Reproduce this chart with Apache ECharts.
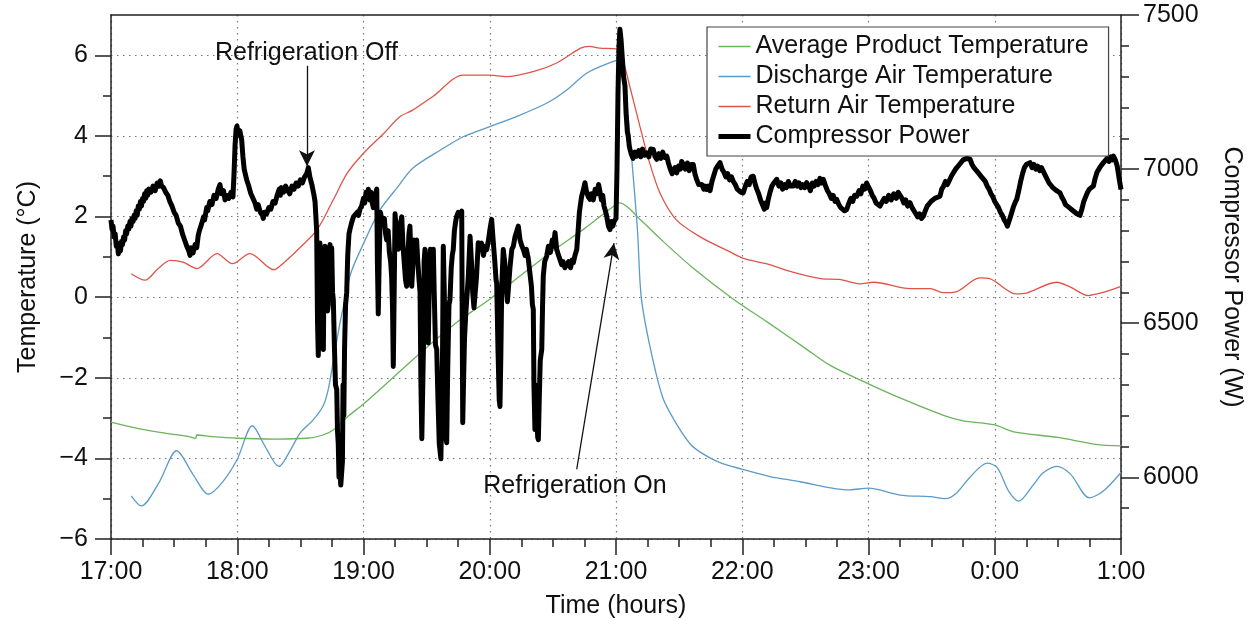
<!DOCTYPE html>
<html>
<head>
<meta charset="utf-8">
<script src="https://cdn.jsdelivr.net/npm/echarts@6/dist/echarts.min.js"></script>
<style>
  html, body { margin: 0; padding: 0; background: #fff; }
  #chart { width: 1250px; height: 626px; }
</style>
</head>
<body>
<div id="chart"></div>
<script>
// time is in hours since midnight of the first day (25 = 1:00 next day)
const hourTicks = [17, 18, 19, 20, 21, 22, 23, 24, 25]
const hourLabels = ['17:00', '18:00', '19:00', '20:00', '21:00', '22:00', '23:00', '0:00', '1:00']
const tempTicks = [-6, -4, -2, 0, 2, 4, 6]
const tempMinorTicks = [-5, -3, -1, 1, 3, 5]
const powerTicks = [6000, 6500, 7000, 7500]
const powerMinorTicks = [5900, 6100, 6200, 6300, 6400, 6600, 6700, 6800, 6900, 7100, 7200, 7300, 7400]

const productTemp = [
  [17.0, -3.1], [17.2, -3.25], [17.4, -3.36], [17.6, -3.45], [17.67, -3.5], [17.68, -3.42],
  [17.8, -3.46], [18.0, -3.5], [18.3, -3.52], [18.55, -3.5], [18.68, -3.42], [18.78, -3.25],
  [18.88, -2.95], [19.0, -2.65], [19.25, -1.95], [19.5, -1.25], [19.75, -0.6], [20.0, -0.05],
  [20.25, 0.55], [20.5, 1.15], [20.75, 1.7], [21.0, 2.3], [21.03, 2.34], [21.2, 1.9],
  [21.35, 1.45], [21.6, 0.75], [21.93, -0.05], [22.2, -0.62], [22.5, -1.27], [22.7, -1.7],
  [23.0, -2.15], [23.25, -2.5], [23.6, -2.94], [23.75, -3.07], [24.0, -3.17], [24.15, -3.34],
  [24.5, -3.48], [24.8, -3.65], [25.0, -3.69]
]

const dischargeTemp = [
  [17.16, -4.93], [17.24, -5.18], [17.38, -4.6], [17.52, -3.81], [17.65, -4.4], [17.77, -4.89],
  [17.88, -4.6], [18.0, -4.02], [18.12, -3.19], [18.22, -3.7], [18.33, -4.2], [18.42, -3.8],
  [18.5, -3.36], [18.6, -3.05], [18.68, -2.7], [18.72, -2.3], [18.76, -1.6], [18.81, -0.7],
  [18.85, -0.1], [18.9, 0.6], [19.0, 1.33], [19.13, 2.16], [19.27, 2.73], [19.39, 3.2],
  [19.61, 3.65], [19.79, 3.98], [20.0, 4.23], [20.18, 4.44], [20.45, 4.81], [20.61, 5.14],
  [20.77, 5.56], [20.98, 5.85], [21.03, 5.89], [21.08, 5.0], [21.12, 3.6], [21.17, 1.66],
  [21.2, 0.0], [21.27, -1.24], [21.37, -2.49], [21.48, -3.15], [21.59, -3.65], [21.67, -3.85],
  [21.82, -4.1], [22.0, -4.27], [22.22, -4.45], [22.46, -4.58], [22.7, -4.73], [22.85, -4.78],
  [23.0, -4.74], [23.25, -4.91], [23.49, -4.95], [23.61, -5.0], [23.7, -4.85], [23.8, -4.48],
  [23.94, -4.12], [24.02, -4.23], [24.11, -4.81], [24.19, -5.06], [24.31, -4.64], [24.38, -4.37],
  [24.49, -4.2], [24.6, -4.39], [24.75, -4.98], [24.86, -4.81], [25.0, -4.35]
]

const returnTemp = [
  [17.16, 0.58], [17.27, 0.42], [17.37, 0.7], [17.47, 0.91], [17.57, 0.87], [17.68, 0.71],
  [17.84, 1.08], [17.96, 0.83], [18.1, 1.08], [18.29, 0.68], [18.36, 0.83], [18.5, 1.24],
  [18.63, 1.66], [18.76, 2.41], [18.87, 3.07], [19.0, 3.57], [19.16, 4.06], [19.29, 4.48],
  [19.39, 4.64], [19.55, 4.98], [19.79, 5.51], [20.0, 5.51], [20.13, 5.47], [20.35, 5.6],
  [20.53, 5.81], [20.72, 6.18], [20.79, 6.22], [20.87, 6.18], [21.0, 6.16], [21.06, 5.81],
  [21.11, 5.22], [21.19, 4.23], [21.26, 3.4], [21.35, 2.57], [21.48, 1.91], [21.67, 1.49],
  [21.88, 1.16], [22.01, 0.96], [22.19, 0.83], [22.4, 0.62], [22.62, 0.46], [22.77, 0.44],
  [22.93, 0.33], [23.04, 0.37], [23.33, 0.21], [23.49, 0.21], [23.59, 0.11], [23.7, 0.14],
  [23.88, 0.48], [23.96, 0.46], [24.17, 0.08], [24.25, 0.1], [24.49, 0.37], [24.6, 0.25],
  [24.74, 0.04], [24.86, 0.12], [25.0, 0.27]
]

const compressorPower = [
  [17.000,6835],[17.008,6805],[17.016,6815],[17.025,6780],[17.033,6790],[17.042,6750],[17.050,6760],[17.058,6725],
  [17.066,6745],[17.075,6735],[17.083,6765],[17.091,6755],[17.100,6780],[17.108,6770],[17.116,6800],[17.124,6790],
  [17.133,6815],[17.141,6805],[17.150,6830],[17.158,6815],[17.166,6840],[17.175,6830],[17.183,6850],[17.191,6840],
  [17.200,6865],[17.208,6850],[17.216,6880],[17.225,6870],[17.233,6895],[17.241,6880],[17.250,6905],[17.258,6895],
  [17.266,6920],[17.275,6905],[17.283,6930],[17.291,6915],[17.300,6935],[17.316,6925],[17.333,6945],[17.350,6930],
  [17.366,6955],[17.383,6945],[17.391,6962],[17.400,6945],[17.416,6940],[17.433,6925],[17.450,6915],[17.466,6895],
  [17.483,6880],[17.500,6860],[17.516,6850],[17.533,6825],[17.550,6815],[17.566,6790],[17.583,6770],[17.600,6750],
  [17.616,6735],[17.626,6720],[17.633,6745],[17.650,6728],[17.666,6755],[17.679,6745],[17.691,6785],[17.700,6800],
  [17.716,6820],[17.733,6845],[17.741,6835],[17.758,6875],[17.766,6865],[17.783,6895],[17.800,6885],[17.816,6915],
  [17.833,6905],[17.850,6935],[17.863,6950],[17.875,6920],[17.891,6930],[17.903,6900],[17.916,6915],[17.933,6905],
  [17.950,6925],[17.966,6910],[17.975,6990],[17.983,7080],[17.991,7130],[17.998,7140],[18.008,7110],[18.020,7125],
  [18.035,7095],[18.045,7040],[18.055,7000],[18.066,6980],[18.075,6965],[18.091,6945],[18.108,6920],[18.125,6905],
  [18.141,6890],[18.154,6870],[18.166,6885],[18.183,6860],[18.200,6850],[18.206,6840],[18.216,6860],[18.233,6855],
  [18.250,6875],[18.266,6870],[18.283,6895],[18.300,6890],[18.316,6915],[18.333,6935],[18.341,6915],[18.350,6940],
  [18.366,6925],[18.383,6945],[18.400,6930],[18.416,6920],[18.433,6945],[18.450,6935],[18.466,6955],[18.483,6945],
  [18.500,6965],[18.516,6955],[18.533,6975],[18.550,6985],[18.563,7005],[18.575,6975],[18.591,6950],[18.608,6915],
  [18.616,6895],[18.629,6800],[18.636,6500],[18.642,6395],[18.648,6600],[18.655,6760],[18.662,6700],[18.668,6420],
  [18.675,6440],[18.682,6415],[18.688,6700],[18.695,6750],[18.702,6720],[18.708,6560],[18.715,6540],[18.721,6560],
  [18.728,6740],[18.735,6755],[18.741,6700],[18.748,6745],[18.755,6600],[18.761,6575],[18.770,6420],[18.778,6300],
  [18.788,6285],[18.794,6150],[18.800,6110],[18.806,6000],[18.812,6030],[18.820,5975],[18.827,5970],[18.833,6050],
  [18.838,6300],[18.844,6200],[18.850,6420],[18.858,6560],[18.867,6600],[18.875,6720],[18.885,6790],[18.893,6805],
  [18.905,6825],[18.920,6845],[18.935,6840],[18.950,6860],[18.960,6850],[18.972,6870],[18.985,6880],[19.000,6905],
  [19.010,6890],[19.020,6925],[19.030,6910],[19.038,6935],[19.050,6900],[19.060,6925],[19.070,6890],[19.078,6875],
  [19.090,6910],[19.105,6935],[19.110,6700],[19.117,6530],[19.124,6700],[19.133,6860],[19.144,6855],[19.155,6820],
  [19.165,6840],[19.175,6790],[19.184,6770],[19.195,6800],[19.205,6730],[19.215,6700],[19.223,6650],[19.230,6550],
  [19.236,6360],[19.243,6600],[19.250,6855],[19.260,6800],[19.268,6760],[19.276,6740],[19.285,6790],[19.295,6830],
  [19.303,6845],[19.312,6760],[19.322,6700],[19.333,6640],[19.342,6620],[19.350,6700],[19.360,6790],[19.368,6815],
  [19.375,6700],[19.382,6620],[19.390,6680],[19.400,6770],[19.410,6760],[19.421,6770],[19.430,6700],[19.440,6640],
  [19.448,6600],[19.455,6300],[19.462,6125],[19.469,6122],[19.476,6450],[19.480,6700],[19.487,6740],[19.495,6700],
  [19.505,6560],[19.513,6436],[19.520,6600],[19.530,6740],[19.540,6720],[19.553,6740],[19.560,6600],[19.570,6430],
  [19.580,6415],[19.590,6250],[19.600,6110],[19.606,6112],[19.613,6060],[19.620,6057],[19.626,6400],[19.632,6750],
  [19.640,6600],[19.648,6300],[19.655,6120],[19.659,6112],[19.667,6350],[19.677,6560],[19.685,6577],[19.695,6680],
  [19.703,6720],[19.711,6739],[19.720,6800],[19.730,6830],[19.738,6847],[19.750,6860],[19.765,6850],[19.778,6864],
  [19.782,6500],[19.786,6177],[19.792,6300],[19.800,6450],[19.810,6530],[19.818,6534],[19.830,6650],[19.844,6782],
  [19.855,6700],[19.865,6600],[19.875,6550],[19.883,6545],[19.895,6650],[19.909,6761],[19.920,6740],[19.935,6760],
  [19.950,6720],[19.965,6750],[19.976,6739],[19.990,6770],[20.000,6800],[20.015,6837],[20.025,6780],[20.040,6700],
  [20.050,6640],[20.055,6631],[20.065,6420],[20.075,6250],[20.081,6230],[20.088,6400],[20.095,6620],[20.107,6739],
  [20.118,6700],[20.130,6620],[20.140,6570],[20.147,6566],[20.160,6680],[20.175,6740],[20.187,6750],[20.200,6780],
  [20.215,6800],[20.226,6815],[20.240,6770],[20.255,6750],[20.266,6739],[20.280,6720],[20.290,6740],[20.305,6710],
  [20.319,6707],[20.330,6620],[20.338,6560],[20.345,6545],[20.350,6300],[20.358,6155],[20.365,6300],[20.372,6200],
  [20.380,6130],[20.385,6122],[20.392,6250],[20.400,6380],[20.412,6415],[20.418,6550],[20.424,6653],[20.435,6700],
  [20.451,6718],[20.465,6750],[20.480,6730],[20.495,6770],[20.505,6750],[20.517,6794],[20.530,6740],[20.545,6720],
  [20.556,6707],[20.570,6690],[20.580,6700],[20.595,6680],[20.610,6674],[20.625,6700],[20.640,6680],[20.652,6705],
  [20.662,6696],[20.675,6720],[20.689,6739],[20.700,6800],[20.710,6860],[20.720,6890],[20.728,6912],[20.740,6930],
  [20.754,6956],[20.765,6930],[20.780,6910],[20.794,6902],[20.805,6920],[20.820,6900],[20.835,6935],[20.850,6920],
  [20.862,6950],[20.873,6945],[20.885,6900],[20.895,6915],[20.905,6880],[20.913,6869],[20.925,6850],[20.940,6815],
  [20.952,6804],[20.962,6830],[20.975,6815],[20.985,6830],[20.992,6826],[21.000,6840],[21.008,7000],[21.016,7250],
  [21.024,7400],[21.031,7454],[21.040,7420],[21.050,7360],[21.060,7300],[21.071,7270],[21.080,7180],[21.090,7120],
  [21.097,7107],[21.105,7075],[21.111,7064],[21.120,7050],[21.135,7035],[21.150,7055],[21.164,7042],[21.180,7060],
  [21.195,7040],[21.210,7065],[21.225,7045],[21.243,7053],[21.260,7040],[21.275,7065],[21.295,7064],[21.310,7040],
  [21.322,7032],[21.340,7050],[21.355,7035],[21.370,7055],[21.385,7038],[21.402,7042],[21.415,7020],[21.430,7000],
  [21.445,6985],[21.454,6988],[21.467,7005],[21.481,6988],[21.495,7010],[21.510,7000],[21.520,7025],[21.533,7021],
  [21.550,7000],[21.565,7020],[21.580,6995],[21.595,7015],[21.612,7015],[21.625,6985],[21.640,6965],[21.655,6950],
  [21.665,6945],[21.680,6950],[21.695,6935],[21.705,6945],[21.718,6934],[21.730,6945],[21.745,6930],[21.760,6960],
  [21.775,6980],[21.790,7000],[21.805,7010],[21.824,7021],[21.840,7000],[21.855,6990],[21.870,6975],[21.885,6985],
  [21.900,6965],[21.915,6975],[21.929,6960],[21.945,6950],[21.960,6935],[21.975,6940],[21.990,6925],[22.008,6923],
  [22.025,6945],[22.040,6960],[22.055,6950],[22.070,6975],[22.087,6977],[22.100,6955],[22.115,6935],[22.130,6920],
  [22.145,6900],[22.160,6895],[22.175,6870],[22.185,6890],[22.194,6875],[22.205,6900],[22.220,6925],[22.235,6945],
  [22.250,6955],[22.273,6967],[22.290,6945],[22.305,6955],[22.320,6935],[22.335,6950],[22.350,6940],[22.365,6960],
  [22.380,6945],[22.404,6945],[22.420,6960],[22.435,6945],[22.450,6955],[22.465,6940],[22.480,6950],[22.495,6940],
  [22.510,6956],[22.525,6945],[22.540,6930],[22.555,6955],[22.570,6945],[22.585,6960],[22.600,6950],[22.615,6970],
  [22.630,6955],[22.642,6967],[22.660,6945],[22.675,6930],[22.690,6920],[22.705,6905],[22.720,6915],[22.735,6895],
  [22.748,6902],[22.765,6885],[22.780,6875],[22.795,6880],[22.810,6865],[22.827,6869],[22.845,6890],[22.860,6905],
  [22.875,6895],[22.890,6915],[22.907,6912],[22.925,6930],[22.940,6920],[22.955,6945],[22.970,6935],[22.985,6955],
  [22.998,6950],[23.015,6930],[23.030,6915],[23.045,6905],[23.060,6890],[23.075,6885],[23.091,6880],[23.110,6895],
  [23.125,6905],[23.140,6895],[23.160,6915],[23.180,6900],[23.200,6920],[23.220,6905],[23.235,6925],[23.250,6923],
  [23.265,6905],[23.280,6890],[23.295,6900],[23.310,6880],[23.329,6891],[23.345,6875],[23.360,6865],[23.375,6860],
  [23.390,6845],[23.405,6855],[23.420,6840],[23.434,6847],[23.450,6865],[23.465,6880],[23.480,6875],[23.495,6895],
  [23.510,6890],[23.525,6905],[23.540,6900],[23.566,6912],[23.580,6935],[23.595,6945],[23.610,6960],[23.625,6950],
  [23.645,6967],[23.660,6980],[23.675,6990],[23.690,7000],[23.705,7005],[23.720,7015],[23.735,7020],[23.750,7030],
  [23.765,7025],[23.780,7035],[23.795,7030],[23.804,7032],[23.820,7015],[23.835,7005],[23.850,7000],[23.865,6990],
  [23.880,6985],[23.895,6975],[23.909,6977],[23.925,6960],[23.940,6945],[23.955,6935],[23.970,6920],[23.985,6910],
  [24.000,6895],[24.015,6891],[24.030,6875],[24.045,6860],[24.060,6850],[24.075,6835],[24.090,6825],[24.100,6815],
  [24.107,6810],[24.120,6840],[24.135,6860],[24.150,6880],[24.165,6895],[24.174,6902],[24.190,6930],[24.205,6960],
  [24.220,6985],[24.235,7005],[24.250,7015],[24.265,7010],[24.279,7021],[24.295,7005],[24.310,7015],[24.325,7000],
  [24.340,7010],[24.355,6995],[24.370,7005],[24.384,6999],[24.400,6980],[24.415,6975],[24.430,6955],[24.445,6960],
  [24.460,6940],[24.475,6945],[24.490,6930],[24.505,6935],[24.517,6923],[24.530,6910],[24.545,6900],[24.560,6885],
  [24.575,6890],[24.590,6875],[24.605,6880],[24.620,6865],[24.635,6870],[24.650,6855],[24.662,6860],[24.675,6850],
  [24.690,6870],[24.705,6895],[24.720,6910],[24.735,6925],[24.750,6935],[24.765,6940],[24.781,6945],[24.795,6970],
  [24.810,6990],[24.825,7000],[24.840,7010],[24.861,7021],[24.875,7015],[24.890,7035],[24.905,7025],[24.920,7040],
  [24.930,7030],[24.940,7042],[24.955,7030],[24.970,7010],[24.985,6970],[25.000,6934]
]

// annotation anchors, in [hour, °C]
const offArrow = [[18.552, 5.74], [18.552, 3.25]]
const onArrow = [[20.689, -4.27], [20.984, 1.34]]
const offText = [18.548, 6.06]
const onText = [20.675, -4.68]

const FONT = '"Liberation Sans", Arial, Helvetica, sans-serif'
const FS = 25
const INK = '#111'
const AXIS = '#222'
const dotted = { color: '#777', width: 1.2, type: [1.5, 4.5] }
const tickStyle = { color: AXIS, width: 1.5 }

const chart = echarts.init(document.getElementById('chart'), null, { renderer: 'canvas' })

function tempLabel(v) {
  return v < 0 ? '\u2212' + Math.abs(v) : String(v)
}

chart.setOption({
  animation: false,
  backgroundColor: '#fff',
  textStyle: { fontFamily: FONT, color: INK },
  grid: { left: 111, right: 129, top: 15, bottom: 87, containLabel: false, outerBoundsMode: 'none' },
  legend: {
    orient: 'vertical',
    left: 707,
    top: 27,
    padding: [7, 20, 7, 9],
    itemWidth: 32,
    itemHeight: 14,
    itemGap: 5,
    borderColor: '#444',
    borderWidth: 1.2,
    backgroundColor: '#fff',
    z: 10,
    itemStyle: { opacity: 0 },
    textStyle: { fontFamily: FONT, fontSize: FS, color: INK },
    data: [
      { name: 'Average Product Temperature', lineStyle: { width: 1.6 } },
      { name: 'Discharge Air Temperature', lineStyle: { width: 1.6 } },
      { name: 'Return Air Temperature', lineStyle: { width: 1.6 } },
      { name: 'Compressor Power', lineStyle: { width: 5 } },
    ],
  },
  xAxis: [
    {
      type: 'value',
      min: 17,
      max: 25,
      interval: 1,
      name: 'Time (hours)',
      nameLocation: 'middle',
      nameGap: 55,
      nameTextStyle: { fontFamily: FONT, fontSize: FS, color: INK },
      axisLine: { onZero: false, lineStyle: { color: AXIS, width: 1.5 } },
      axisTick: { show: true, length: 16, lineStyle: tickStyle },
      minorTick: { show: true, splitNumber: 4, length: 8, lineStyle: tickStyle },
      axisLabel: {
        margin: 21,
        fontFamily: FONT,
        fontSize: FS,
        color: INK,
        formatter: v => hourLabels[hourTicks.indexOf(v)] ?? '',
      },
      splitLine: { show: true, lineStyle: dotted },
    },
    {
      // top frame line
      type: 'value',
      position: 'top',
      min: 17,
      max: 25,
      axisLine: { show: true, onZero: false, lineStyle: { color: AXIS, width: 1.5 } },
      axisTick: { show: false },
      axisLabel: { show: false },
      splitLine: { show: false },
    },
  ],
  yAxis: [
    {
      type: 'value',
      position: 'left',
      min: -6,
      max: 7,
      interval: 2,
      name: 'Temperature (°C)',
      nameLocation: 'middle',
      nameRotate: 90,
      nameGap: 70,
      nameTextStyle: { fontFamily: FONT, fontSize: FS, color: INK },
      axisLine: { show: true, onZero: false, lineStyle: { color: AXIS, width: 1.5 } },
      axisTick: { show: true, length: 16, customValues: tempTicks, lineStyle: tickStyle },
      axisLabel: {
        margin: 23, fontFamily: FONT, fontSize: FS, color: INK,
        customValues: tempTicks, formatter: tempLabel,
      },
      splitLine: { show: true, lineStyle: dotted },
    },
    {
      type: 'value',
      position: 'right',
      min: 5800,
      max: 7500,
      interval: 100,
      name: 'Compressor Power (W)',
      nameLocation: 'middle',
      nameRotate: -90,
      nameGap: 98,
      nameTextStyle: { fontFamily: FONT, fontSize: FS, color: INK },
      axisLine: { show: true, onZero: false, lineStyle: { color: AXIS, width: 1.5 } },
      axisTick: { show: true, length: 18, customValues: powerTicks, lineStyle: tickStyle },
      axisLabel: {
        margin: 22, fontFamily: FONT, fontSize: FS, color: INK,
        customValues: powerTicks, formatter: v => String(v),
      },
      splitLine: { show: false },
    },
    {
      // minor ticks on the temperature side
      type: 'value',
      position: 'left',
      min: -6,
      max: 7,
      axisLine: { show: false, onZero: false },
      axisTick: { show: true, length: 8, customValues: tempMinorTicks, lineStyle: tickStyle },
      axisLabel: { show: false },
      splitLine: { show: false },
    },
    {
      // minor ticks on the power side
      type: 'value',
      position: 'right',
      min: 5800,
      max: 7500,
      axisLine: { show: false, onZero: false },
      axisTick: { show: true, length: 8, customValues: powerMinorTicks, lineStyle: tickStyle },
      axisLabel: { show: false },
      splitLine: { show: false },
    },
  ],
  series: [
    {
      name: 'Average Product Temperature',
      type: 'line',
      yAxisIndex: 0,
      data: productTemp,
      symbol: 'none',
      smooth: 0.3,
      color: '#6cb35d',
      lineStyle: { color: '#6cb35d', width: 1.3 },
      z: 2,
      markLine: {
        silent: true,
        symbol: ['none', 'arrow'],
        symbolSize: [12, 16],
        label: { show: false },
        lineStyle: { color: INK, width: 1.3, type: 'solid' },
        itemStyle: { color: INK },
        data: [
          [{ coord: offArrow[0] }, { coord: offArrow[1] }],
          [{ coord: onArrow[0] }, { coord: onArrow[1] }],
        ],
      },
      markPoint: {
        silent: true,
        symbol: 'circle',
        symbolSize: 0,
        label: { show: true, position: 'inside', fontFamily: FONT, fontSize: FS, color: INK },
        data: [
          { coord: offText, label: { formatter: 'Refrigeration Off' } },
          { coord: onText, label: { formatter: 'Refrigeration On' } },
        ],
      },
    },
    {
      name: 'Discharge Air Temperature',
      type: 'line',
      yAxisIndex: 0,
      data: dischargeTemp,
      symbol: 'none',
      smooth: 0.3,
      color: '#5b9bc8',
      lineStyle: { color: '#5b9bc8', width: 1.3 },
      z: 2,
    },
    {
      name: 'Return Air Temperature',
      type: 'line',
      yAxisIndex: 0,
      data: returnTemp,
      symbol: 'none',
      smooth: 0.3,
      color: '#df5448',
      lineStyle: { color: '#df5448', width: 1.3 },
      z: 2,
    },
    {
      name: 'Compressor Power',
      type: 'line',
      yAxisIndex: 1,
      data: compressorPower,
      symbol: 'none',
      color: '#000',
      lineStyle: { color: '#000', width: 5, join: 'round' },
      z: 3,
    },
  ],
})
</script>
</body>
</html>
